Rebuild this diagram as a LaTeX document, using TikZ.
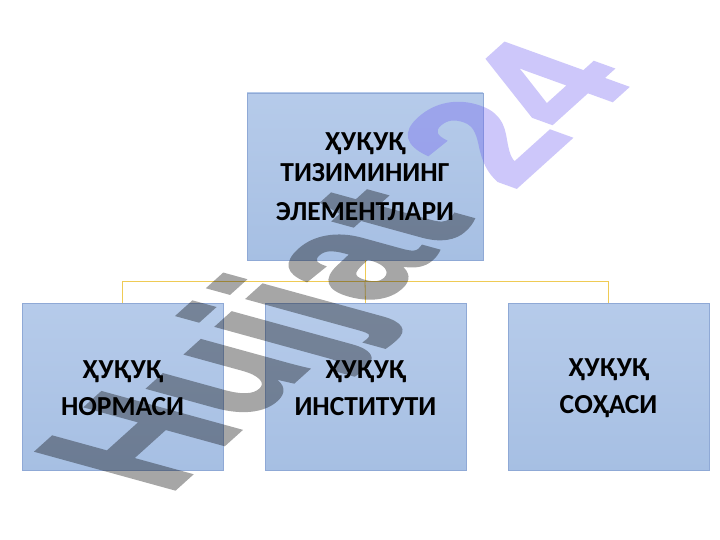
\documentclass[tikz,border=0pt]{standalone}
\usepackage{fontspec}
\newfontfamily\boxfont{Carlito}
\newfontfamily\wmfont[FakeBold=2]{Liberation Sans}
\definecolor{boxtop}{HTML}{B6CBEA}
\definecolor{boxbot}{HTML}{A6BFE3}
\definecolor{boxline}{HTML}{8FA9D6}
\definecolor{conn}{HTML}{EFCB55}
\definecolor{wmgray}{HTML}{000000}
\definecolor{wmviolet}{RGB}{112,95,241}
\begin{document}
\begin{tikzpicture}[x=1pt,y=-1pt,
  box/.style={draw=boxline, line width=0.6pt, top color=boxtop, bottom color=boxbot,
    minimum width=201pt, minimum height=167pt, inner sep=0pt, outer sep=0pt},
  topbox/.style={box, minimum width=236pt},
  toplbl/.style={font=\boxfont\bfseries\fontsize{27.5}{31}\selectfont, align=center, inner sep=0pt, text=black},
  lbl/.style={font=\boxfont\bfseries\fontsize{27.5}{37}\selectfont, align=center, inner sep=0pt, text=black},
  link/.style={draw=conn, line width=0.8pt},
  wm/.style={font=\wmfont\bfseries\fontsize{100}{100}\selectfont, inner sep=0pt,
    anchor=base west, transform shape}
]
\useasboundingbox[fill=white] (0,0) rectangle (720,540);
% boxes
\node[topbox] (top) at (365,176.5) {};
\node[box] (b1) at (122.5,386.5) {};
\node[box] (b2) at (365.5,386.5) {};
\node[box] (b3) at (608.5,386.5) {};
% connectors
\coordinate (mid) at (365,281);
\draw[link] (top.south) -- (mid);
\draw[link] (b1.north) -- (b1.north |- mid) -- (b3.north |- mid) -- (b3.north);
\draw[link] (mid) -- (b2.north);
% watermark
\begin{scope}[transparency group, opacity=0.35]
\node[wm, text=wmgray, cm={1.11,1.0,-2.0,0.55,(167,496)}] (wm1) at (0,0) {Hujjat};
\node[wm, text=wmviolet, cm={1.13,1.02,-1.77,0.64,(512,191)}] (wm2) at (0,0) {24};
\end{scope}
% labels
\node[toplbl] (toptext) at (top.center) {ҲУҚУҚ\\ТИЗИМИНИНГ\\[8pt]ЭЛЕМЕНТЛАРИ};
\node[lbl] (t1) at ([yshift=-2pt]b1.center) {ҲУҚУҚ\\НОРМАСИ};
\node[lbl] (t2) at ([yshift=-2pt]b2.center) {ҲУҚУҚ\\ИНСТИТУТИ};
\node[lbl] (t3) at ([yshift=-2pt]b3.center) {ҲУҚУҚ\\СОҲАСИ};
\end{tikzpicture}
\end{document}
